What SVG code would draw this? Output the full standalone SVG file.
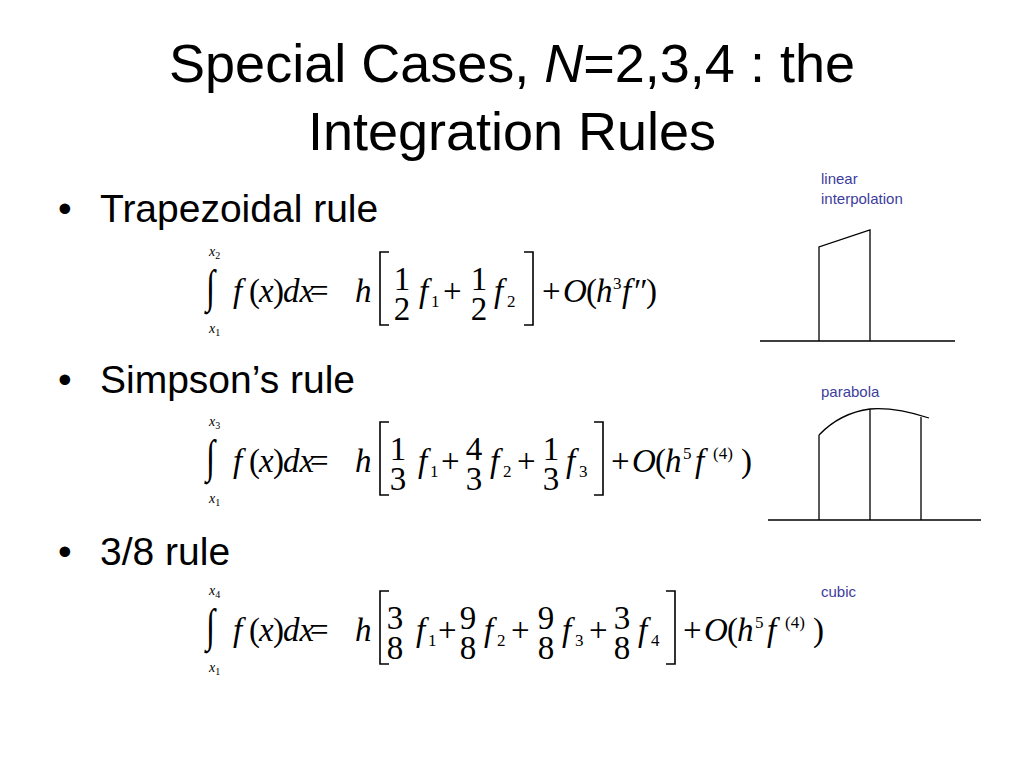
<svg xmlns="http://www.w3.org/2000/svg" width="1024" height="768" viewBox="0 0 1024 768">
<style>
.t{font-family:"Liberation Sans",Arial,sans-serif;fill:#000}
.m{font-family:"Liberation Serif","Times New Roman",serif;font-size:33px;fill:#000}
.i{font-style:italic}
.s{font-size:17px}
.l{font-size:14px}
.u{font-size:10px;font-style:normal}
.b{font-family:"Liberation Sans",Arial,sans-serif;font-size:15px;fill:#3d3d9c}
.br{fill:none;stroke:#000;stroke-width:1.6}
.g{fill:none;stroke:#000;stroke-width:1.3}
</style>
<rect width="1024" height="768" fill="#fff"/>
<text class="t" x="512" y="82" font-size="54" text-anchor="middle">Special Cases, <tspan font-style="italic">N</tspan>=2,3,4 : the</text>
<text class="t" x="512" y="150" font-size="54" text-anchor="middle">Integration Rules</text>
<text class="t" x="58" y="222" font-size="39">•</text><text class="t" x="100" y="222" font-size="39">Trapezoidal rule</text>
<text class="t" x="58" y="393" font-size="39">•</text><text class="t" x="100" y="393" font-size="39">Simpson’s rule</text>
<text class="t" x="58" y="565" font-size="39">•</text><text class="t" x="100" y="565" font-size="39">3/8 rule</text>

<g id="eq1">
<text class="m" x="206" y="303" transform="translate(0,-122.2) scale(1,1.4)" font-size="38">∫</text>
<text class="m i l" x="209" y="256">x<tspan class="u" dy="3">2</tspan></text>
<text class="m i l" x="209" y="333">x<tspan class="u" dy="3">1</tspan></text>
<text class="m" y="302"><tspan class="i" x="233">f</tspan><tspan x="249">(</tspan><tspan class="i" x="259">x</tspan><tspan x="273">)</tspan><tspan class="i" x="283">dx</tspan><tspan x="310">=</tspan><tspan class="i" x="355">h</tspan></text>
<path class="br" d="M389,252 H380 V325 H389 M524,252 H533 V325 H524"/>
<text class="m" x="402" y="290" text-anchor="middle">1</text><text class="m" x="402" y="320" text-anchor="middle">2</text>
<text class="m" y="302"><tspan class="i" x="419">f</tspan><tspan class="s" x="431" dy="5">1</tspan><tspan x="443" dy="-5">+</tspan></text>
<text class="m" x="479" y="290" text-anchor="middle">1</text><text class="m" x="479" y="320" text-anchor="middle">2</text>
<text class="m" y="302"><tspan class="i" x="494">f</tspan><tspan class="s" x="507" dy="5">2</tspan><tspan x="542" dy="-5">+</tspan><tspan class="i" x="563">O</tspan><tspan x="586">(</tspan><tspan class="i" x="596">h</tspan><tspan class="s" x="613" dy="-13">3</tspan><tspan class="i" x="622" dy="13">f</tspan><tspan x="634">″</tspan><tspan x="646">)</tspan></text>
</g>

<g id="eq2">
<text class="m" x="206" y="473" transform="translate(0,-190.2) scale(1,1.4)" font-size="38">∫</text>
<text class="m i l" x="209" y="426">x<tspan class="u" dy="3">3</tspan></text>
<text class="m i l" x="209" y="503">x<tspan class="u" dy="3">1</tspan></text>
<text class="m" y="472"><tspan class="i" x="233">f</tspan><tspan x="249">(</tspan><tspan class="i" x="259">x</tspan><tspan x="273">)</tspan><tspan class="i" x="283">dx</tspan><tspan x="310">=</tspan><tspan class="i" x="355">h</tspan></text>
<path class="br" d="M389,422 H380 V495 H389 M594,422 H603 V495 H594"/>
<text class="m" x="398" y="460" text-anchor="middle">1</text><text class="m" x="398" y="490" text-anchor="middle">3</text>
<text class="m" y="472"><tspan class="i" x="418">f</tspan><tspan class="s" x="430" dy="5">1</tspan><tspan x="441" dy="-5">+</tspan></text>
<text class="m" x="474" y="460" text-anchor="middle">4</text><text class="m" x="474" y="490" text-anchor="middle">3</text>
<text class="m" y="472"><tspan class="i" x="490">f</tspan><tspan class="s" x="503" dy="5">2</tspan><tspan x="517" dy="-5">+</tspan></text>
<text class="m" x="551" y="460" text-anchor="middle">1</text><text class="m" x="551" y="490" text-anchor="middle">3</text>
<text class="m" y="472"><tspan class="i" x="566">f</tspan><tspan class="s" x="579" dy="5">3</tspan><tspan x="611" dy="-5">+</tspan><tspan class="i" x="632">O</tspan><tspan x="655">(</tspan><tspan class="i" x="665">h</tspan><tspan class="s" x="683" dy="-13">5</tspan><tspan class="i" x="695" dy="13">f</tspan><tspan class="s" x="713" dy="-13">(4)</tspan><tspan x="741" dy="13">)</tspan></text>
</g>

<g id="eq3">
<text class="m" x="206" y="642" transform="translate(0,-257.8) scale(1,1.4)" font-size="38">∫</text>
<text class="m i l" x="209" y="595">x<tspan class="u" dy="3">4</tspan></text>
<text class="m i l" x="209" y="672">x<tspan class="u" dy="3">1</tspan></text>
<text class="m" y="641"><tspan class="i" x="233">f</tspan><tspan x="249">(</tspan><tspan class="i" x="259">x</tspan><tspan x="273">)</tspan><tspan class="i" x="283">dx</tspan><tspan x="310">=</tspan><tspan class="i" x="355">h</tspan></text>
<path class="br" d="M389,591 H380 V664 H389 M666,591 H675 V664 H666"/>
<text class="m" x="395" y="629" text-anchor="middle">3</text><text class="m" x="395" y="659" text-anchor="middle">8</text>
<text class="m" y="641"><tspan class="i" x="416">f</tspan><tspan class="s" x="428" dy="5">1</tspan><tspan x="438" dy="-5">+</tspan></text>
<text class="m" x="468" y="629" text-anchor="middle">9</text><text class="m" x="468" y="659" text-anchor="middle">8</text>
<text class="m" y="641"><tspan class="i" x="484">f</tspan><tspan class="s" x="497" dy="5">2</tspan><tspan x="511" dy="-5">+</tspan></text>
<text class="m" x="546" y="629" text-anchor="middle">9</text><text class="m" x="546" y="659" text-anchor="middle">8</text>
<text class="m" y="641"><tspan class="i" x="562">f</tspan><tspan class="s" x="575" dy="5">3</tspan><tspan x="589" dy="-5">+</tspan></text>
<text class="m" x="622" y="629" text-anchor="middle">3</text><text class="m" x="622" y="659" text-anchor="middle">8</text>
<text class="m" y="641"><tspan class="i" x="638">f</tspan><tspan class="s" x="651" dy="5">4</tspan><tspan x="683" dy="-5">+</tspan><tspan class="i" x="704">O</tspan><tspan x="727">(</tspan><tspan class="i" x="737">h</tspan><tspan class="s" x="755" dy="-13">5</tspan><tspan class="i" x="767" dy="13">f</tspan><tspan class="s" x="785" dy="-13">(4)</tspan><tspan x="813" dy="13">)</tspan></text>
</g>

<g id="linear">
<text class="b" x="821" y="184">linear</text><text class="b" x="821" y="204">interpolation</text>
<path class="g" d="M760,341 H955 M819,341 V247 L870,230 V341"/>
</g>
<g id="parabola">
<text class="b" x="821" y="397">parabola</text>
<path class="g" d="M768,520 H981 M819,520 V435 M870,520 V409 M921,520 V417 M819,435 Q840,413 870,409 Q895,407 929,418"/>
</g>
<g id="cubic"><text class="b" x="821" y="597">cubic</text></g>
</svg>
